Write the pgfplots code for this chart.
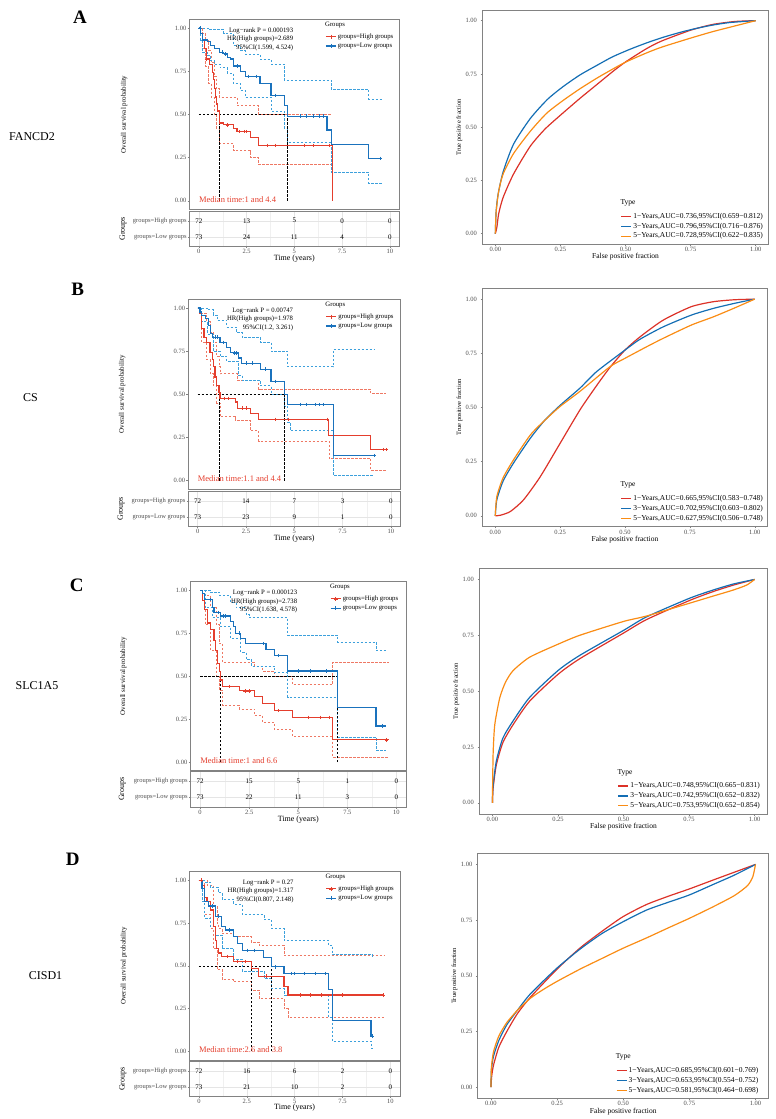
\documentclass[border=0pt]{standalone}
\usepackage{pgfplots}
\pgfplotsset{compat=1.18}
\usepackage{fontspec}
\setmainfont{Liberation Serif}
\newcommand\fs[1]{\fontsize{#1}{#1}\selectfont}
\definecolor{kmred}{RGB}{228,62,45}
\definecolor{kmblue}{RGB}{26,114,189}
\definecolor{cired}{RGB}{238,120,100}
\definecolor{ciblue}{RGB}{60,160,220}
\definecolor{rocred}{RGB}{220,50,40}
\definecolor{rocblue}{RGB}{20,110,180}
\definecolor{rocorange}{RGB}{250,140,20}
\definecolor{framegray}{RGB}{130,130,130}
\definecolor{ticktext}{RGB}{77,77,77}
\pgfplotsset{
 base/.style={scale only axis, clip=false, axis line style={framegray, line width=0.6pt},
   tick style={framegray, line width=0.4pt}, tick align=outside, major tick length=1.8pt,
   xtick pos=bottom, ytick pos=left, ticklabel style={font=\fs{6.5}, text=ticktext},
   /pgf/number format/assume math mode=true},
 km/.style={base, xmin=-0.5, xmax=10.5, ymin=-0.05, ymax=1.05, xtick=\empty,
   ytick={0,0.25,0.5,0.75,1}, yticklabels={0.00,0.25,0.50,0.75,1.00},
   yticklabel style={inner sep=1pt},
   ylabel={Overall survival probability},
   ylabel style={at={(axis description cs:-0.31,0.5)}, anchor=center, font=\fs{7}},
   legend style={at={(axis description cs:0.646,0.935)}, anchor=north west, draw=none, fill=none,
     inner sep=0pt, row sep=0.2pt, font=\fs{6.7}, nodes={inner sep=1.6pt}},
   legend cell align=left,
   legend image code/.code={\draw[##1, mark repeat=2, mark phase=2] plot coordinates {(0pt,0pt) (5pt,0pt) (10pt,0pt)};}},
 tab/.style={base, xmin=-0.5, xmax=10.5, ymin=0.4, ymax=2.6, major tick length=1.5pt,
   xtick={0,2.5,5,7.5,10}, xticklabels={0,2.5,5,7.5,10}, minor x tick num=1,
   ytick={1,2}, yticklabels={groups=Low groups,groups=High groups},
   xticklabel style={inner sep=1pt}, yticklabel style={inner sep=1pt},
   grid=both, major grid style={black!10, line width=0.4pt}, minor grid style={black!6, line width=0.3pt},
   minor tick length=0pt,
   xlabel={Time (years)}, ylabel={Groups},
   xlabel style={at={(axis description cs:0.5,-0.325)}, anchor=center, font=\fs{8}},
   ylabel style={at={(axis description cs:-0.315,0.5)}, anchor=center, font=\fs{8}}},
 roc/.style={base, xmin=-0.05, xmax=1.05, ymin=-0.05, ymax=1.05,
   xtick={0,0.25,0.5,0.75,1}, xticklabels={0.00,0.25,0.50,0.75,1.00},
   ytick={0,0.25,0.5,0.75,1}, yticklabels={0.00,0.25,0.50,0.75,1.00},
   xticklabel style={inner sep=1pt},
   xlabel={False positive fraction}, ylabel={True positive fraction},
   xlabel style={at={(axis description cs:0.5,-0.053)}, anchor=center, font=\fs{7.5}},
   ylabel style={at={(axis description cs:-0.08,0.5)}, anchor=center, font=\fs{6.5}},
   legend style={at={(axis description cs:0,0)}, anchor=south west, xshift=138pt, yshift=3pt,
     draw=none, fill=none, inner sep=0pt, row sep=0pt, font=\fs{7.5}, nodes={inner sep=1.6pt}},
   legend cell align=left,
   legend image code/.code={\draw[##1] (0pt,0pt) -- (10pt,0pt);}},
 hi/.style={const plot, kmred, line width=1.2pt, forget plot},
 lo/.style={const plot, kmblue, line width=1.2pt, forget plot},
 hici/.style={const plot, cired, line width=0.6pt, dash pattern=on 2.4pt off 1.6pt, forget plot},
 loci/.style={const plot, ciblue, line width=0.6pt, dash pattern=on 2.4pt off 1.6pt, forget plot},
 himk/.style={only marks, mark=+, mark size=1.8pt, kmred, mark options={line width=0.5pt}, forget plot},
 lomk/.style={only marks, mark=+, mark size=1.8pt, kmblue, mark options={line width=0.5pt}, forget plot},
 med/.style={black, line width=0.6pt, dash pattern=on 2.4pt off 1.6pt, forget plot},
 rr/.style={rocred, line width=1.2pt, smooth, tension=0.4},
 rb/.style={rocblue, line width=1.2pt, smooth, tension=0.4},
 ro/.style={rocorange, line width=1.2pt, smooth, tension=0.4},
}
\newcommand\kmtext[4]{%
 \node[anchor=east,font=\fs{6.7},inner sep=0pt] at (axis cs:4.95,0.985) {Log−rank P = #1};
 \node[anchor=east,font=\fs{6.7},inner sep=0pt] at (axis cs:4.95,0.935) {HR(High groups)=#2};
 \node[anchor=east,font=\fs{6.7},inner sep=0pt] at (axis cs:4.95,0.885) {95\%CI(#3)};
 \node[anchor=west,font=\fs{8.5},text=kmred,inner sep=0pt] at (axis cs:0,0.01) {Median time:#4};
 \node[anchor=west,font=\fs{6.7},inner sep=0pt] at (axis description cs:0.646,0.97) {Groups};
 \addlegendimage{kmred, line width=1.2pt, mark=+, mark options={line width=0.5pt}}
 \addlegendentry{groups=High groups}
 \addlegendimage{kmblue, line width=1.2pt, mark=+, mark options={line width=0.5pt}}
 \addlegendentry{groups=Low groups}
}
\newcommand\tabrow[6]{%
 \node[font=\fs{7}] at (axis cs:0,#1) {#2};
 \node[font=\fs{7}] at (axis cs:2.5,#1) {#3};
 \node[font=\fs{7}] at (axis cs:5,#1) {#4};
 \node[font=\fs{7}] at (axis cs:7.5,#1) {#5};
 \node[font=\fs{7}] at (axis cs:10,#1) {#6};
}
\newcommand\roctitle{\node[anchor=west,font=\fs{7.5},inner sep=0pt] at ([xshift=138pt,yshift=41.6pt]axis description cs:0,0) {Type};}
\begin{document}
\begin{tikzpicture}[x=1pt,y=1pt]
% ---------------- Panel A ----------------
\node[font=\fs{19}\bfseries] at (80pt,1102pt) {A};
\node[font=\fs{12}] at (32pt,982pt) {FANCD2};
\begin{axis}[km, at={(189.3pt,909.5pt)}, anchor=south west, width=210pt, height=190.2pt]
\addplot[hici] coordinates {(0,1) (0.2,0.97) (0.35,0.93) (0.5,0.87) (0.65,0.8) (0.8,0.72) (0.9,0.65) (1.08,0.6) (2.0,0.55) (3.13,0.5) (6.98,0.5)};
\addplot[hici] coordinates {(0,1) (0.2,0.88) (0.35,0.78) (0.5,0.68) (0.65,0.6) (0.8,0.5) (0.92,0.42) (1.08,0.33) (1.82,0.29) (2.7,0.25) (3.13,0.21) (6.98,0.21)};
\addplot[loci] coordinates {(0,1) (0.5,0.99) (1.3,0.97) (1.8,0.9) (2.17,0.87) (2.43,0.85) (3.2,0.82) (3.78,0.79) (4.48,0.70) (6.94,0.644) (8.9,0.59) (9.6,0.59)};
\addplot[loci] coordinates {(0,1) (0.1,0.93) (0.2,0.86) (0.45,0.84) (0.6,0.81) (0.8,0.79) (1.1,0.77) (1.5,0.74) (1.8,0.68) (2.17,0.64) (2.43,0.60) (3.78,0.52) (4.48,0.42) (4.65,0.34) (6.94,0.165) (8.9,0.10) (9.6,0.10)};
\addplot[med] coordinates {(0,0.5) (4.65,0.5)};
\addplot[med] coordinates {(1.08,0) (1.08,0.5)};
\addplot[med] coordinates {(4.65,0) (4.65,0.5)};
\addplot[hi] coordinates {(0,1) (0.1,0.97) (0.2,0.93) (0.3,0.88) (0.42,0.82) (0.55,0.79) (0.7,0.74) (0.77,0.70) (0.82,0.65) (0.86,0.6) (0.92,0.56) (0.98,0.52) (1.08,0.45) (1.3,0.44) (1.82,0.42) (2.0,0.40) (2.7,0.365) (3.13,0.32) (6.98,0.0)};
\addplot[lo] coordinates {(0,1) (0.1,0.97) (0.2,0.93) (0.45,0.92) (0.6,0.90) (0.8,0.88) (1.1,0.86) (1.3,0.85) (1.5,0.83) (1.65,0.82) (1.8,0.78) (2.17,0.75) (2.43,0.72) (3.2,0.68) (3.78,0.61) (4.48,0.55) (4.65,0.49) (6.71,0.41) (6.94,0.325) (8.9,0.245) (9.6,0.245)};
\addplot[himk] coordinates {(0.4,0.82) (1.5,0.44) (2.1,0.40) (2.4,0.40) (2.5,0.40) (3.6,0.32) (4.0,0.32) (5.5,0.32) (6.0,0.32) (6.85,0.32)};
\addplot[lomk] coordinates {(0.05,1) (1.2,0.86) (1.4,0.85) (2.0,0.78) (2.6,0.72) (3.0,0.72) (4.0,0.61) (5.3,0.49) (5.6,0.49) (6.0,0.49) (6.3,0.49) (6.5,0.49) (9.5,0.245)};
\kmtext{0.000193}{2.689}{1.599, 4.524}{1 and 4.4}
\end{axis}
\begin{axis}[tab, at={(189.3pt,872.3pt)}, anchor=south west, width=210pt, height=35.7pt]
\tabrow{2}{72}{13}{5}{0}{0}
\tabrow{1}{73}{24}{11}{4}{0}
\end{axis}
\begin{axis}[roc, at={(482.3pt,874.7pt)}, anchor=south west, width=286.4pt, height=234.3pt]
\addplot[rr] coordinates {(0,0) (0.006,0.03) (0.013,0.094) (0.03,0.17) (0.07,0.28) (0.134,0.41) (0.19,0.49) (0.25,0.556) (0.325,0.635) (0.39,0.70) (0.45,0.76) (0.5,0.806) (0.58,0.868) (0.64,0.905) (0.75,0.955) (0.834,0.982) (0.92,0.996) (1,1)};
\addlegendentry{1−Years,AUC=0.736,95\%CI(0.659−0.812)}
\addplot[rb] coordinates {(0,0) (0.003,0.1) (0.01,0.18) (0.03,0.29) (0.07,0.42) (0.134,0.54) (0.2,0.63) (0.26,0.69) (0.325,0.745) (0.39,0.79) (0.45,0.83) (0.516,0.865) (0.58,0.895) (0.64,0.92) (0.71,0.945) (0.77,0.963) (0.834,0.979) (0.9,0.991) (1,1)};
\addlegendentry{3−Years,AUC=0.796,95\%CI(0.716−0.876)}
\addplot[ro] coordinates {(0,0) (0.003,0.1) (0.013,0.2) (0.03,0.28) (0.07,0.376) (0.134,0.48) (0.197,0.565) (0.26,0.625) (0.325,0.68) (0.39,0.73) (0.45,0.772) (0.5,0.805) (0.58,0.848) (0.64,0.876) (0.75,0.918) (0.834,0.948) (0.92,0.975) (1,1)};
\addlegendentry{5−Years,AUC=0.728,95\%CI(0.622−0.835)}
\roctitle
\end{axis}
% ---------------- Panel B ----------------
\node[font=\fs{19}\bfseries] at (77.7pt,830pt) {B};
\node[font=\fs{12}] at (30.5pt,721.3pt) {CS};
\begin{axis}[km, at={(188pt,629.7pt)}, anchor=south west, width=212.5pt, height=190pt]
\addplot[hici] coordinates {(0,1) (0.2,0.97) (0.47,0.92) (0.64,0.86) (0.81,0.8) (0.99,0.72) (1.1,0.66) (1.16,0.62) (2.05,0.58) (3.15,0.53) (8.96,0.505) (9.74,0.505)};
\addplot[hici] coordinates {(0,1) (0.2,0.8) (0.47,0.7) (0.64,0.62) (0.81,0.55) (0.99,0.45) (1.16,0.37) (1.94,0.35) (2.72,0.29) (3.15,0.23) (6.79,0.13) (8.96,0.06) (9.74,0.06)};
\addplot[loci] coordinates {(0,1) (0.5,0.99) (0.8,0.96) (1.0,0.93) (1.5,0.89) (2.0,0.86) (2.29,0.83) (3.24,0.80) (3.8,0.75) (4.66,0.66) (7.02,0.76) (9.13,0.76)};
\addplot[loci] coordinates {(0,1) (0.2,0.92) (0.5,0.85) (0.8,0.75) (1.16,0.72) (1.5,0.69) (2.1,0.61) (2.29,0.58) (3.24,0.55) (3.8,0.50) (4.49,0.43) (4.66,0.34) (4.8,0.29) (7.02,0.03) (9.13,0.03)};
\addplot[med] coordinates {(0,0.5) (4.49,0.5)};
\addplot[med] coordinates {(1.13,0) (1.13,0.5)};
\addplot[med] coordinates {(4.49,0) (4.49,0.5)};
\addplot[hi] coordinates {(0,1) (0.1,0.97) (0.2,0.88) (0.33,0.83) (0.47,0.80) (0.64,0.74) (0.75,0.70) (0.81,0.66) (0.9,0.6) (0.99,0.55) (1.1,0.51) (1.16,0.476) (1.94,0.455) (2.05,0.42) (2.72,0.39) (3.15,0.355) (6.79,0.26) (8.96,0.18) (9.74,0.18)};
\addplot[lo] coordinates {(0,1) (0.12,0.977) (0.2,0.957) (0.4,0.94) (0.55,0.90) (0.68,0.85) (0.78,0.83) (1.16,0.80) (1.5,0.77) (1.68,0.74) (2.1,0.71) (2.29,0.68) (3.24,0.645) (3.8,0.575) (4.49,0.50) (4.66,0.44) (7.02,0.145) (9.13,0.145)};
\addplot[himk] coordinates {(1.4,0.476) (1.6,0.476) (2.3,0.42) (2.5,0.42) (4.0,0.355) (4.7,0.355) (6.7,0.355) (9.6,0.18) (9.74,0.18)};
\addplot[lomk] coordinates {(0.9,0.83) (1.0,0.83) (1.3,0.80) (1.9,0.74) (2.0,0.74) (2.5,0.68) (2.8,0.68) (3.5,0.645) (4.0,0.575) (5.3,0.44) (5.6,0.44) (6.1,0.44) (6.3,0.44) (6.5,0.44) (9.13,0.145)};
\kmtext{0.00747}{1.978}{1.2, 3.261}{1.1 and 4.4}
\end{axis}
\begin{axis}[tab, at={(188pt,592.3pt)}, anchor=south west, width=212.5pt, height=35.7pt]
\tabrow{2}{72}{14}{7}{3}{0}
\tabrow{1}{73}{23}{9}{1}{0}
\end{axis}
\begin{axis}[roc, at={(482.3pt,592.3pt)}, anchor=south west, width=285.4pt, height=238.4pt]
\addplot[rr] coordinates {(0,0) (0.02,0.003) (0.058,0.02) (0.109,0.074) (0.173,0.18) (0.25,0.335) (0.327,0.49) (0.39,0.60) (0.442,0.685) (0.5,0.765) (0.558,0.826) (0.647,0.903) (0.755,0.965) (0.84,0.988) (0.92,0.997) (1,1)};
\addlegendentry{1−Years,AUC=0.665,95\%CI(0.583−0.748)}
\addplot[rb] coordinates {(0,0) (0.006,0.074) (0.03,0.16) (0.07,0.243) (0.135,0.358) (0.19,0.44) (0.25,0.51) (0.327,0.59) (0.39,0.665) (0.5,0.765) (0.558,0.815) (0.647,0.872) (0.755,0.926) (0.84,0.957) (0.92,0.98) (1,1)};
\addlegendentry{3−Years,AUC=0.702,95\%CI(0.603−0.802)}
\addplot[ro] coordinates {(0,0) (0.006,0.089) (0.03,0.175) (0.07,0.258) (0.135,0.373) (0.19,0.44) (0.25,0.505) (0.327,0.575) (0.442,0.688) (0.5,0.727) (0.583,0.78) (0.647,0.819) (0.755,0.88) (0.84,0.918) (0.92,0.958) (1,1)};
\addlegendentry{5−Years,AUC=0.627,95\%CI(0.506−0.748)}
\roctitle
\end{axis}
% ---------------- Panel C ----------------
\node[font=\fs{19}\bfseries] at (76.7pt,534pt) {C};
\node[font=\fs{12}] at (37pt,433pt) {SLC1A5};
\begin{axis}[km, at={(190.3pt,348.3pt)}, anchor=south west, width=216pt, height=189pt]
\addplot[hici] coordinates {(0,1) (0.24,0.97) (0.54,0.9) (0.8,0.8) (0.97,0.69) (1.14,0.58) (2.76,0.56) (3.18,0.53) (3.78,0.5) (4.71,0.45) (6.75,0.58) (9.64,0.58)};
\addplot[hici] coordinates {(0,1) (0.24,0.8) (0.54,0.65) (0.8,0.5) (0.97,0.42) (1.14,0.33) (1.99,0.31) (2.76,0.27) (3.18,0.23) (3.78,0.19) (4.71,0.15) (6.75,0.03) (9.64,0.03)};
\addplot[loci] coordinates {(0,1) (0.5,0.99) (1.0,0.97) (1.56,0.93) (1.82,0.9) (2.33,0.86) (2.5,0.84) (4.46,0.74) (7.0,0.70) (8.96,0.65) (9.47,0.65)};
\addplot[loci] coordinates {(0,1) (0.24,0.9) (0.63,0.84) (1.05,0.79) (1.56,0.72) (2.07,0.64) (2.33,0.60) (2.6,0.56) (3.78,0.52) (4.46,0.38) (7.0,0.145) (8.96,0.07) (9.47,0.07)};
\addplot[med] coordinates {(0,0.5) (7.0,0.5)};
\addplot[med] coordinates {(1.05,0) (1.05,0.5)};
\addplot[med] coordinates {(7.0,0) (7.0,0.5)};
\addplot[hi] coordinates {(0,1) (0.12,0.94) (0.24,0.89) (0.37,0.81) (0.54,0.77) (0.71,0.71) (0.8,0.65) (0.88,0.574) (0.97,0.526) (1.05,0.478) (1.14,0.44) (1.99,0.415) (2.76,0.38) (3.18,0.34) (3.78,0.30) (4.71,0.26) (6.75,0.13) (9.64,0.13)};
\addplot[lo] coordinates {(0,1) (0.12,0.98) (0.24,0.946) (0.63,0.90) (0.71,0.87) (1.05,0.85) (1.56,0.82) (1.7,0.79) (1.82,0.75) (2.07,0.72) (2.33,0.69) (3.35,0.655) (3.78,0.62) (4.46,0.53) (7.0,0.32) (8.96,0.21) (9.47,0.21)};
\addplot[himk] coordinates {(1.5,0.44) (2.3,0.415) (2.5,0.415) (4.0,0.30) (5.5,0.26) (6.1,0.26) (6.6,0.26) (9.5,0.13)};
\addplot[lomk] coordinates {(0.5,0.946) (0.9,0.87) (1.2,0.85) (1.3,0.85) (2.0,0.75) (3.2,0.69) (4.0,0.62) (5.0,0.53) (5.6,0.53) (6.4,0.53) (9.3,0.21)};
\kmtext{0.000123}{2.738}{1.638, 4.578}{1 and 6.6}
\end{axis}
\begin{axis}[tab, at={(190.3pt,311.7pt)}, anchor=south west, width=216pt, height=36.3pt]
\tabrow{2}{72}{15}{5}{1}{0}
\tabrow{1}{73}{22}{11}{3}{0}
\end{axis}
\begin{axis}[roc, at={(479.3pt,305pt)}, anchor=south west, width=288.4pt, height=245.7pt]
\addplot[rr] coordinates {(0,0) (0.001,0.035) (0.003,0.07) (0.015,0.17) (0.04,0.27) (0.079,0.35) (0.142,0.455) (0.25,0.575) (0.333,0.645) (0.5,0.76) (0.587,0.82) (0.75,0.905) (0.84,0.945) (0.92,0.975) (1,1)};
\addlegendentry{1−Years,AUC=0.748,95\%CI(0.665−0.831)}
\addplot[rb] coordinates {(0,0) (0.001,0.04) (0.003,0.082) (0.015,0.187) (0.04,0.29) (0.079,0.367) (0.142,0.472) (0.25,0.592) (0.333,0.66) (0.5,0.772) (0.587,0.832) (0.75,0.915) (0.84,0.952) (0.92,0.98) (1,1)};
\addlegendentry{3−Years,AUC=0.742,95\%CI(0.652−0.832)}
\addplot[ro] coordinates {(0,0) (0.001,0.1) (0.003,0.23) (0.009,0.35) (0.028,0.47) (0.05,0.54) (0.079,0.592) (0.142,0.652) (0.25,0.71) (0.333,0.75) (0.5,0.812) (0.587,0.836) (0.75,0.893) (0.84,0.925) (0.917,0.952) (0.97,0.975) (1,1)};
\addlegendentry{5−Years,AUC=0.753,95\%CI(0.652−0.854)}
\roctitle
\end{axis}
% ---------------- Panel D ----------------
\node[font=\fs{19}\bfseries] at (72.7pt,260pt) {D};
\node[font=\fs{12}] at (45.5pt,143.3pt) {CISD1};
\begin{axis}[km, at={(189.3pt,59pt)}, anchor=south west, width=210.7pt, height=188.3pt]
\addplot[hici] coordinates {(0,1) (0.42,0.97) (0.77,0.85) (0.94,0.75) (1.03,0.72) (1.2,0.69) (1.82,0.67) (2.73,0.64) (3.13,0.62) (4.44,0.56) (9.69,0.56)};
\addplot[hici] coordinates {(0,1) (0.28,0.8) (0.59,0.72) (0.77,0.6) (0.94,0.48) (1.2,0.42) (1.82,0.41) (2.73,0.36) (3.13,0.31) (4.44,0.25) (4.65,0.2) (9.69,0.2)};
\addplot[loci] coordinates {(0,1) (0.3,0.99) (0.6,0.96) (1.0,0.93) (1.2,0.89) (1.82,0.86) (2.26,0.80) (3.39,0.77) (3.78,0.72) (4.44,0.65) (6.77,0.62) (6.98,0.565) (9.07,0.55)};
\addplot[loci] coordinates {(0,1) (0.16,0.88) (0.28,0.78) (0.59,0.73) (0.86,0.68) (1.2,0.6) (1.82,0.54) (2.26,0.47) (3.39,0.43) (3.78,0.37) (4.44,0.33) (6.77,0.2) (6.98,0.06) (8.99,0.02) (9.07,0.02)};
\addplot[med] coordinates {(0,0.5) (3.78,0.5)};
\addplot[med] coordinates {(2.73,0) (2.73,0.5)};
\addplot[med] coordinates {(3.78,0) (3.78,0.5)};
\addplot[hi] coordinates {(0,1) (0.16,0.97) (0.28,0.90) (0.42,0.874) (0.59,0.826) (0.77,0.73) (0.86,0.65) (0.94,0.60) (1.03,0.575) (1.2,0.555) (1.82,0.525) (2.73,0.485) (3.13,0.44) (4.44,0.38) (4.65,0.33) (9.69,0.33)};
\addplot[lo] coordinates {(0,1) (0.16,0.95) (0.28,0.874) (0.5,0.85) (0.86,0.79) (1.2,0.73) (1.4,0.71) (1.82,0.67) (2.03,0.63) (2.26,0.59) (3.39,0.55) (3.78,0.495) (4.44,0.455) (6.77,0.36) (6.98,0.18) (8.99,0.09) (9.07,0.09)};
\addplot[himk] coordinates {(0.1,1) (1.5,0.555) (2.0,0.525) (2.4,0.525) (3.5,0.44) (5.3,0.33) (5.8,0.33) (6.4,0.33) (7.5,0.33) (9.6,0.33)};
\addplot[lomk] coordinates {(0.7,0.85) (1.0,0.79) (1.6,0.71) (2.5,0.59) (2.9,0.59) (4.0,0.495) (4.8,0.455) (5.0,0.455) (5.5,0.455) (6.1,0.455) (6.6,0.455) (9.07,0.09)};
\kmtext{0.27}{1.317}{0.807, 2.148}{2.6 and 3.8}
\end{axis}
\begin{axis}[tab, at={(189.3pt,22.3pt)}, anchor=south west, width=210.7pt, height=35pt]
\tabrow{2}{72}{16}{6}{2}{0}
\tabrow{1}{73}{21}{10}{2}{0}
\end{axis}
\begin{axis}[roc, at={(477.7pt,20.7pt)}, anchor=south west, width=291pt, height=245pt]
\addplot[rr] coordinates {(0,0) (0.003,0.05) (0.01,0.1) (0.03,0.18) (0.06,0.25) (0.1,0.33) (0.15,0.405) (0.25,0.53) (0.337,0.625) (0.42,0.7) (0.5,0.766) (0.588,0.82) (0.67,0.857) (0.75,0.89) (0.84,0.93) (0.92,0.965) (1,1)};
\addlegendentry{1−Years,AUC=0.685,95\%CI(0.601−0.769)}
\addplot[rb] coordinates {(0,0) (0.002,0.08) (0.01,0.14) (0.03,0.21) (0.06,0.28) (0.1,0.345) (0.15,0.42) (0.25,0.535) (0.337,0.62) (0.42,0.69) (0.5,0.743) (0.588,0.795) (0.67,0.83) (0.75,0.863) (0.84,0.91) (0.92,0.952) (1,1)};
\addlegendentry{3−Years,AUC=0.653,95\%CI(0.554−0.752)}
\addplot[ro] coordinates {(0,0) (0.002,0.09) (0.01,0.16) (0.03,0.23) (0.06,0.29) (0.1,0.345) (0.15,0.4) (0.2,0.44) (0.25,0.475) (0.337,0.53) (0.42,0.578) (0.5,0.624) (0.588,0.67) (0.67,0.715) (0.75,0.758) (0.84,0.81) (0.92,0.86) (0.97,0.905) (0.99,0.945) (1,1)};
\addlegendentry{5−Years,AUC=0.581,95\%CI(0.464−0.698)}
\roctitle
\end{axis}
\pgfresetboundingbox
\path[use as bounding box] (0pt,0pt) rectangle (776pt,1119pt);
\end{tikzpicture}
\end{document}
